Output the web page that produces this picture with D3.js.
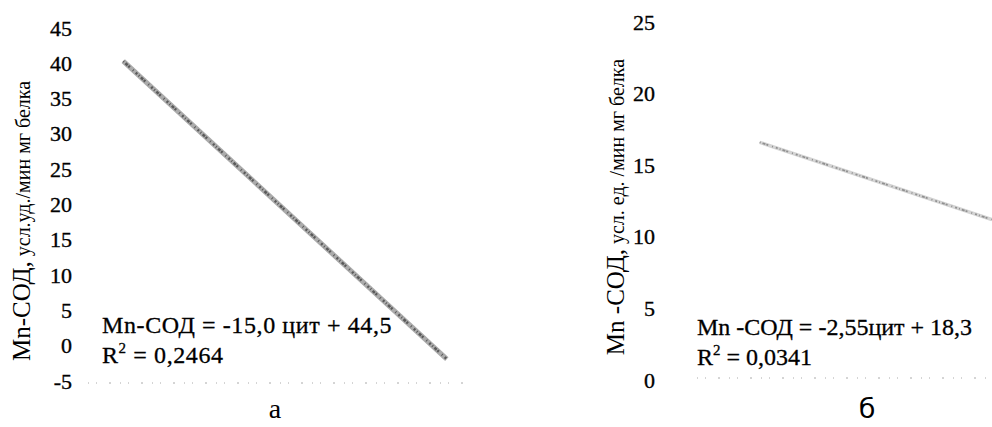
<!DOCTYPE html>
<html>
<head>
<meta charset="utf-8">
<script src="https://cdn.jsdelivr.net/npm/d3@7"></script>
<style>
  body { margin: 0; background: #fff; }
  svg { display: block; }
</style>
</head>
<body>
<div id="chart"></div>
<script>
// panel a
const ticksA = [-5, 0, 5, 10, 15, 20, 25, 30, 35, 40, 45];
const lineA = [{ x: 0.28, y: 40.3 }, { x: 3.09, y: -1.9 }];
const eqA = ["Mn-СОД = -15,0 цит + 44,5", "0,2464"];
const titleA = ["Mn-СОД,", " усл.уд./мин мг белка"];

// panel б
const ticksB = [0, 5, 10, 15, 20, 25];
const lineB = [{ x: 0.67, y: 16.6 }, { x: 2.78, y: 11.2 }];
const eqB = ["Mn -СОД = -2,55цит + 18,3", "0,0341"];
const titleB = ["Mn -СОД,", " усл. ед. /мин мг белка"];

const width = 992, height = 427;
const serif = "Liberation Serif, DejaVu Serif, serif";

const svg = d3.select("#chart").append("svg")
    .attr("width", width)
    .attr("height", height);

function panel(opt) {
    const y = d3.scaleLinear().domain(opt.yDomain).range(opt.yRange);
    const x = d3.scaleLinear().domain(opt.xDomain).range(opt.xRange);
    const g = svg.append("g");

    // tick labels only, no axis line
    const yAxis = d3.axisLeft(y).tickValues(opt.ticks)
        .tickFormat(d => String(d)).tickSize(0).tickPadding(0);
    g.append("g")
        .attr("transform", `translate(${opt.axisX},0)`)
        .call(yAxis)
        .call(a => a.select(".domain").remove())
        .selectAll("text")
        .style("font-family", serif)
        .style("font-size", "22px")
        .attr("fill", "#000")
        .attr("stroke", "#000")
        .attr("stroke-width", 0.35);

    // faint dotted baseline
    const by = y(opt.yDomain[0]) + opt.baseOff;
    g.append("line")
        .attr("x1", opt.baseX[0]).attr("x2", opt.baseX[1])
        .attr("y1", by).attr("y2", by)
        .attr("stroke", "#aaa")
        .attr("stroke-width", 1)
        .attr("stroke-dasharray", "1,7,1,12,2,9");

    // trend line, speckled look
    const line = d3.line().x(d => x(d.x)).y(d => y(d.y));
    g.append("path").datum(opt.line)
        .attr("d", line)
        .attr("fill", "none")
        .attr("stroke", opt.lineColor)
        .attr("stroke-width", opt.lineWidth);
    g.append("path").datum(opt.line)
        .attr("d", line)
        .attr("fill", "none")
        .attr("stroke", opt.speckColor)
        .attr("stroke-width", opt.lineWidth * 0.5)
        .attr("stroke-dasharray", "1,2,3,1,2,4,1,3,2,2");

    // regression equation
    const eqStyle = s => s
        .style("font-family", serif)
        .style("font-size", "24px")
        .style("letter-spacing", opt.eqSpacing + "px")
        .attr("stroke", "#000")
        .attr("stroke-width", 0.3);
    g.append("text")
        .attr("x", opt.eqX).attr("y", opt.eqY)
        .call(eqStyle)
        .text(opt.eq[0]);
    const r2 = g.append("text")
        .attr("x", opt.eqX).attr("y", opt.eqY + 30)
        .call(eqStyle);
    r2.append("tspan").text("R");
    r2.append("tspan").attr("dy", -10).style("font-size", "15px").text("2");
    r2.append("tspan").attr("dy", 10).text(" = " + opt.eq[1]);

    // rotated y title
    const t = g.append("text")
        .attr("transform", `translate(${opt.titleX},${opt.titleY}) rotate(-90)`)
        .attr("text-anchor", "middle")
        .style("font-family", serif)
        .attr("fill", "#000");
    t.append("tspan").style("font-size", opt.titleSize[0] + "px").text(opt.title[0]);
    t.append("tspan").style("font-size", opt.titleSize[1] + "px").text(opt.title[1]);

    // panel letter
    g.append("text")
        .attr("x", opt.letterX).attr("y", 418)
        .attr("text-anchor", "middle")
        .style("font-family", opt.letterFont)
        .style("font-size", opt.letterSize + "px")
        .text(opt.letter);
}

panel({
    yDomain: [-5, 45], yRange: [381, 28],
    xDomain: [0, 3.3], xRange: [91, 471],
    ticks: ticksA, axisX: 72,
    line: lineA, lineColor: "#ababab", speckColor: "#5a5a5a", lineWidth: 5,
    baseX: [88, 465], baseOff: 2,
    eq: eqA, eqX: 102, eqY: 333, eqSpacing: 0.6,
    title: titleA, titleSize: [25, 20], titleX: 30, titleY: 221,
    letter: "а", letterX: 275, letterFont: serif, letterSize: 28
});

panel({
    yDomain: [0, 25], yRange: [380, 22],
    xDomain: [0, 3], xRange: [686, 1016],
    ticks: ticksB, axisX: 655,
    line: lineB, lineColor: "#d4d4d4", speckColor: "#909090", lineWidth: 3.5,
    baseX: [697, 992], baseOff: -2,
    eq: eqB, eqX: 697, eqY: 335, eqSpacing: 0,
    title: titleB, titleSize: [25, 20], titleX: 624, titleY: 207,
    letter: "б", letterX: 867, letterFont: "DejaVu Sans, sans-serif", letterSize: 27
});
</script>
</body>
</html>
